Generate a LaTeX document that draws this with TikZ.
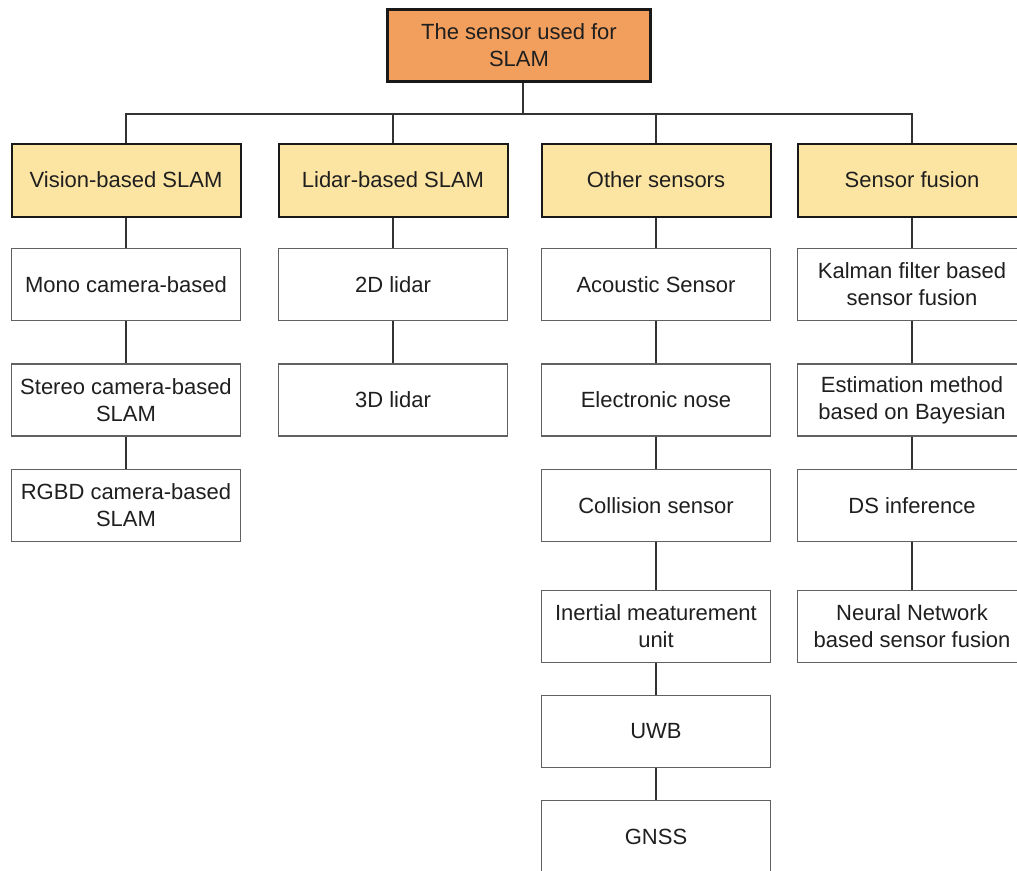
\documentclass[tikz,border=0pt]{standalone}
\usepackage{fontspec}
\setmainfont{Liberation Sans}
\begin{document}
\begin{tikzpicture}[x=1pt,y=-1pt,
  every node/.style={font=\fontsize{22}{27}\selectfont, text=black!88, align=center, inner sep=0pt},
  rootbox/.style={draw=black!90, line width=3.5pt, fill=rootfill, minimum width=263pt, minimum height=72pt},
  catbox/.style={draw=black!90, line width=2pt, fill=catfill, minimum width=229pt, minimum height=73pt},
  leafbox/.style={draw=black!62, line width=1.4pt, fill=white, minimum width=229pt, minimum height=72pt},
  link/.style={draw=black!80, line width=1.3pt}]
\definecolor{rootfill}{RGB}{242,159,94}
\definecolor{catfill}{RGB}{252,228,162}
\useasboundingbox (0,0) rectangle (1017,870);

% root
\node[rootbox] (root) at (519,45.5) {The sensor used for\\SLAM};

% categories
\node[catbox] (vis) at (126,180) {Vision-based SLAM};
\node[catbox] (lid) at (393,180) {Lidar-based SLAM};
\node[catbox] (oth) at (656,180) {Other sensors};
\node[catbox] (fus) at (912,180) {Sensor fusion};

% vision column
\node[leafbox] (v1) at (126,284.5) {Mono camera-based};
\node[leafbox] (v2) at (126,400) {Stereo camera-based\\SLAM};
\node[leafbox] (v3) at (126,505.5) {RGBD camera-based\\SLAM};

% lidar column
\node[leafbox] (l1) at (393,284.5) {2D lidar};
\node[leafbox] (l2) at (393,400) {3D lidar};

% other sensors column
\node[leafbox] (o1) at (656,284.5) {Acoustic Sensor};
\node[leafbox] (o2) at (656,400) {Electronic nose};
\node[leafbox] (o3) at (656,505.5) {Collision sensor};
\node[leafbox] (o4) at (656,626.5) {Inertial meaturement\\unit};
\node[leafbox] (o5) at (656,731.5) {UWB};
\node[leafbox] (o6) at (656,836.5) {GNSS};

% sensor fusion column
\node[leafbox] (f1) at (912,284.5) {Kalman filter based\\sensor fusion};
\node[leafbox] (f2) at (912,400) {Estimation method\\based on Bayesian};
\node[leafbox] (f3) at (912,505.5) {DS inference};
\node[leafbox] (f4) at (912,626.5) {Neural Network\\based sensor fusion};

% tree connectors
\coordinate (bus) at (523,114);
\draw[link] ([xshift=4pt]root.south) -- (bus);
\draw[link] (vis.north) |- (bus) -| (fus.north);
\draw[link] (lid.north) -- (lid.north |- bus);
\draw[link] (oth.north) -- (oth.north |- bus);

\foreach \a/\b in {vis/v1,v1/v2,v2/v3,lid/l1,l1/l2,oth/o1,o1/o2,o2/o3,o3/o4,o4/o5,o5/o6,fus/f1,f1/f2,f2/f3,f3/f4}
  \draw[link] (\a.south) -- (\b.north);
\end{tikzpicture}
\end{document}
